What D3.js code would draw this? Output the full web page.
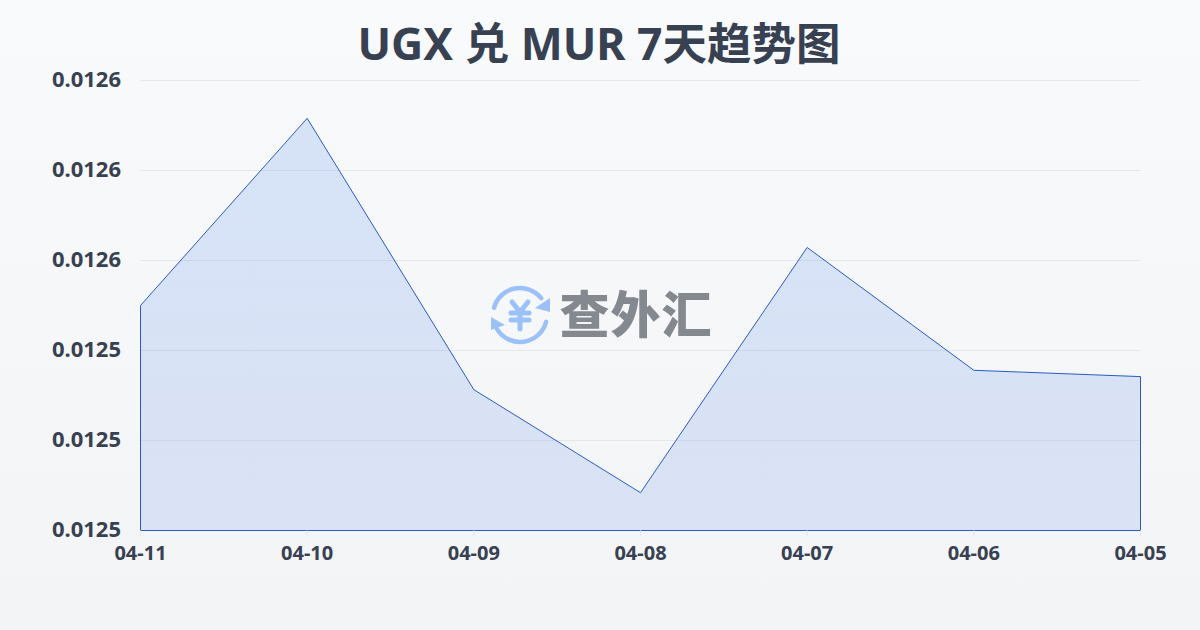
<!DOCTYPE html>
<html><head><meta charset="utf-8">
<script src="https://cdn.jsdelivr.net/npm/d3@7/dist/d3.min.js"></script>
<style>
html,body{margin:0;padding:0}
body{width:1200px;height:630px;overflow:hidden;background:linear-gradient(180deg,#f8fafc 0%,#f3f4f6 100%)}
svg{display:block}
text{font-family:"Noto Sans","Noto Sans CJK SC",sans-serif}
</style></head><body>
<svg id="c" width="1200" height="630"></svg>
<script>
const titleText = "UGX 兑 MUR 7天趋势图";
const dates = ["04-11","04-10","04-09","04-08","04-07","04-06","04-05"];
const rates = [0.0125500,0.0125916,0.0125313,0.0125084,0.0125629,0.0125356,0.0125342];
const yTicks = [0.0125,0.01252,0.01254,0.01256,0.01258,0.0126];
const watermarkText = "查外汇";

const svg = d3.select("#c");
const m = {l:140.5,r:1140.5,t:80.5,b:530.5};
const x = d3.scalePoint().domain(dates).range([m.l,m.r]);
const y = d3.scaleLinear().domain([yTicks[0],yTicks[yTicks.length-1]]).range([m.b,m.t]);

const defs = svg.append("defs");
const g = defs.append("linearGradient").attr("id","fill").attr("x1",0).attr("y1",0).attr("x2",0).attr("y2",1);
g.append("stop").attr("offset","0%").attr("stop-color","#1c67e1").attr("stop-opacity",0.15);
g.append("stop").attr("offset","100%").attr("stop-color","#4776e9").attr("stop-opacity",0.15);

svg.append("text").attr("x",599).attr("y",60).attr("text-anchor","middle")
  .attr("font-size",44.5).attr("font-weight",700).attr("fill","#374151").text(titleText);

// grid
svg.append("g").selectAll("line").data(yTicks).join("line")
  .attr("x1",m.l).attr("x2",m.r).attr("y1",d=>y(d)).attr("y2",d=>y(d))
  .attr("stroke","#e5e7eb").attr("stroke-width",1);

// area and line
const area = d3.area().x((d,i)=>x(dates[i])).y0(m.b).y1(d=>y(d));
svg.append("path").datum(rates).attr("d",area).attr("fill","url(#fill)").attr("stroke","#2a5bc4").attr("stroke-width",1);

// x ticks
svg.append("g").selectAll("line").data(dates).join("line")
  .attr("x1",d=>x(d)).attr("x2",d=>x(d)).attr("y1",m.b).attr("y2",m.b+6)
  .attr("stroke","#e5e7eb");

// y labels
svg.append("g").selectAll("text").data(yTicks).join("text")
  .attr("x",121).attr("y",d=>y(d)+6).attr("text-anchor","end")
  .attr("font-size",22).attr("font-weight",700).attr("fill","#374151")
  .text(d=>d3.format(".4f")(d));

// x labels
svg.append("g").selectAll("text").data(dates).join("text")
  .attr("x",d=>x(d)).attr("y",m.b+29.5).attr("text-anchor","middle")
  .attr("font-size",20).attr("font-weight",700).attr("fill","#374151")
  .text(d=>d);

// watermark
const wm = svg.append("g").attr("transform","translate(520,315)").attr("fill","none").attr("stroke","#9cc0f8").attr("stroke-linecap","round").attr("stroke-linejoin","round");
wm.append("path").attr("stroke-width",4.5).attr("d",d3.arc()({innerRadius:27,outerRadius:27,startAngle:-1.3,endAngle:0.9}));
wm.append("path").attr("stroke-width",4.5).attr("d",d3.arc()({innerRadius:27,outerRadius:27,startAngle:1.83,endAngle:4.17}));
wm.append("path").attr("fill","#9cc0f8").attr("stroke","none").attr("d","M30-17 L30-3 L15-7Z");
wm.append("path").attr("fill","#9cc0f8").attr("stroke","none").attr("d","M-29 2 L-29 15 L-15 10Z");
wm.append("path").attr("stroke-width",5).attr("d","M-8-13 L0-3 L8-13 M-9-2 H9 M-9 5 H9 M0-3 V14");
svg.append("text").attr("x",636).attr("y",333).attr("text-anchor","middle")
  .style("font-family","'Noto Sans CJK SC'")
  .attr("font-size",50).attr("font-weight",900).attr("fill","#84888f").attr("letter-spacing",1).text(watermarkText);
</script>
</body></html>
